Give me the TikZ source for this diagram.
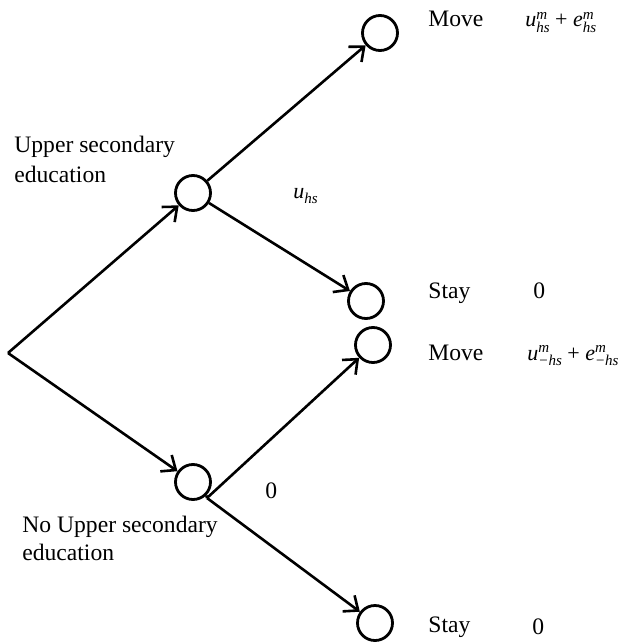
\documentclass[tikz,border=0pt]{standalone}
\usepackage{fontspec}
\setmainfont{Liberation Serif}
\usetikzlibrary{arrows.meta}
\newcommand{\myvar}[2]{\textit{#1}\rlap{\raisebox{0.75ex}{\fontsize{7.5}{8}\selectfont\textit{m}}}\raisebox{-0.55ex}{\fontsize{7.5}{8}\selectfont\textit{#2}}}
\begin{document}
\begin{tikzpicture}[x=0.5pt,y=-0.5pt,
  circ/.style={draw,circle,line width=1.4pt,minimum size=17.5pt,inner sep=0pt},
  edge/.style={line width=1.3pt},
  arr/.style={edge,-{Straight Barb[length=6pt,width=10pt,line width=1.3pt]}},
  lbl/.style={anchor=base west,inner sep=0pt,font=\fontsize{11.8}{14}\selectfont},
  flbl/.style={anchor=base west,inner sep=0pt,font=\fontsize{11}{13}\selectfont}]
\useasboundingbox (0,0) rectangle (624,642);
\coordinate (R) at (8,353);
\node[circ] (U) at (193,193) {};
\node[circ] (L) at (193,482) {};
\node[circ] (UM) at (380,33) {};
\node[circ] (US) at (366,301) {};
\node[circ] (LM) at (373,345) {};
\node[circ] (LS) at (375,623) {};
\coordinate (LV) at (207,498);
\draw[arr] (R) -- (U);
\draw[arr] (R) -- (L);
\draw[arr] (U) -- (UM);
\draw[arr] (U) -- (US);
\draw[arr] (LV) -- (LM);
\draw[arr] (LV) -- (LS);
\draw[edge] (L.-45) -- (LV);
\node[lbl] (up1) at (14,153) {Upper secondary};
\node[lbl] (up2) at (14,182) {education};
\node[lbl] (no1) at (22,532) {No Upper secondary};
\node[lbl] (no2) at (22,560) {education};
\node[flbl] (uhs) at (293,198) {\textit{u}\raisebox{-0.55ex}{\fontsize{7.5}{8}\selectfont\textit{hs}}};
\node[lbl] (zm) at (265,498) {0};
\node[lbl] (mv1) at (428,27) {Move};
\node[flbl] (f1) at (525,27) {\myvar{u}{hs} + \myvar{e}{hs}};
\node[lbl] (st1) at (428,298) {Stay};
\node[lbl] (z1) at (533,298) {0};
\node[lbl] (mv2) at (428,360) {Move};
\node[flbl] (f2) at (527,360) {\myvar{u}{−hs} + \myvar{e}{−hs}};
\node[lbl] (st2) at (428,632) {Stay};
\node[lbl] (z2) at (532,634) {0};
\end{tikzpicture}
\end{document}
